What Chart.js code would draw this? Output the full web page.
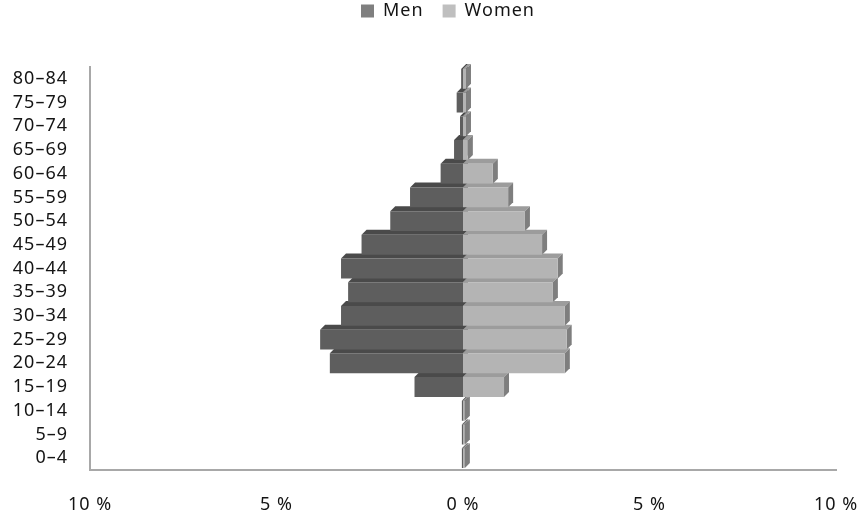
<!DOCTYPE html>
<html>
<head>
<meta charset="utf-8">
<script src="https://cdn.jsdelivr.net/npm/chart.js@4/dist/chart.umd.min.js"></script>
<style>
  html, body { margin: 0; padding: 0; background: #fff; }
  #wrap { width: 868px; height: 521px; }
</style>
</head>
<body>
<div id="wrap"><canvas id="pyramid"></canvas></div>
<script>
// ── Data (share of population, %) ──
const ageGroups = ['80–84','75–79','70–74','65–69','60–64','55–59','50–54','45–49',
                   '40–44','35–39','30–34','25–29','20–24','15–19','10–14','5–9','0–4'];
const menShare   = [0.05, 0.17, 0.08, 0.24, 0.6, 1.42, 1.95, 2.72, 3.27, 3.08, 3.27, 3.83, 3.57, 1.3, 0.03, 0.03, 0.03];
const womenShare = [0.08, 0.08, 0.08, 0.13, 0.8, 1.21, 1.66, 2.12, 2.54, 2.41, 2.73, 2.78, 2.73, 1.1, 0.05, 0.05, 0.05];
const xTicks     = [-10, -5, 0, 5, 10];

const DEPTH = 5;
const shades = {
  Men:   { front: '#5e5e5e', top: '#4a4a4a', side: '#505050', legend: '#7f7f7f' },
  Women: { front: '#b4b4b4', top: '#9c9c9c', side: '#7e7e7e', legend: '#bfbfbf' },
};
const TEXT = '#141414';

// ── Slightly wider text, like the original's font ──
const spacing = {
  id: 'spacing',
  beforeLayout(chart) { chart.ctx.letterSpacing = '1px'; },
  beforeDraw(chart)   { chart.ctx.letterSpacing = '1px'; },
};

// ── 3D faces behind each bar ──
const depthFaces = {
  id: 'depthFaces',
  beforeDatasetsDraw(chart) {
    const ctx = chart.ctx;
    chart.data.datasets.forEach((ds, i) => {
      const meta = chart.getDatasetMeta(i);
      const s = shades[ds.label];
      meta.data.forEach(bar => {
        const p = bar.getProps(['x', 'y', 'base', 'height'], true);
        const left = Math.min(p.x, p.base), right = Math.max(p.x, p.base);
        const top = p.y - p.height / 2, bottom = p.y + p.height / 2;
        ctx.save();
        ctx.fillStyle = s.top;
        ctx.beginPath();
        ctx.moveTo(left, top);
        ctx.lineTo(left + DEPTH, top - DEPTH);
        ctx.lineTo(right + DEPTH, top - DEPTH);
        ctx.lineTo(right, top);
        ctx.closePath();
        ctx.fill();
        ctx.fillStyle = s.side;
        ctx.beginPath();
        ctx.moveTo(right, top);
        ctx.lineTo(right + DEPTH, top - DEPTH);
        ctx.lineTo(right + DEPTH, bottom - DEPTH);
        ctx.lineTo(right, bottom);
        ctx.closePath();
        ctx.fill();
        ctx.restore();
      });
    });
  }
};

// ── Legend band: fixed height, nudged up and right ──
const legendBand = {
  id: 'legendBand',
  beforeInit(chart) {
    const fit = chart.legend.fit;
    chart.legend.fit = function () {
      fit.bind(chart.legend)();
      this.height = 67;
    };
  },
  afterLayout(chart) {
    const lg = chart.legend;
    lg.left += 30; lg.right += 30;
    lg.top -= 17;  lg.bottom -= 17;
  }
};

new Chart(document.getElementById('pyramid'), {
  type: 'bar',
  data: {
    labels: ageGroups,
    datasets: [
      { label: 'Men',   data: menShare.map(v => -v), backgroundColor: shades.Men.front },
      { label: 'Women', data: womenShare,            backgroundColor: shades.Women.front },
    ],
  },
  options: {
    indexAxis: 'y',
    responsive: true,
    maintainAspectRatio: false,
    animation: false,
    layout: { padding: { left: 0, right: 32, top: 0, bottom: 0 } },
    datasets: { bar: { categoryPercentage: 1, barPercentage: 0.84, borderWidth: 0 } },
    plugins: {
      tooltip: { enabled: false },
      legend: {
        position: 'top',
        labels: {
          color: TEXT,
          font: { family: 'Noto Sans', size: 18 },
          boxWidth: 13, boxHeight: 13, padding: 19,
          generateLabels: chart => chart.data.datasets.map((ds, i) => ({
            text: ds.label,
            fillStyle: shades[ds.label].legend,
            strokeStyle: shades[ds.label].legend,
            lineWidth: 0,
            datasetIndex: i,
            fontColor: TEXT,
          })),
        },
      },
    },
    scales: {
      x: {
        stacked: true,
        min: -10, max: 10,
        afterBuildTicks: axis => { axis.ticks = xTicks.map(v => ({ value: v })); },
        afterFit: axis => { axis.height = 51; axis.paddingLeft = 0; axis.paddingRight = 0; },
        grid: { display: false, drawTicks: false },
        border: { display: true, color: '#a8a8a8', width: 2 },
        ticks: {
          color: TEXT,
          padding: 24,
          maxRotation: 0,
          font: { family: 'Noto Sans', size: 18 },
          callback: v => Math.abs(v) + ' %',
        },
      },
      y: {
        stacked: true,
        afterFit: axis => { axis.width = 90; },
        grid: { display: false, drawTicks: false },
        border: { display: true, color: '#a8a8a8', width: 2 },
        ticks: {
          color: TEXT,
          padding: 22,
          autoSkip: false,
          font: { family: 'Noto Sans', size: 18 },
        },
      },
    },
  },
  plugins: [spacing, depthFaces, legendBand],
});
</script>
</body>
</html>
